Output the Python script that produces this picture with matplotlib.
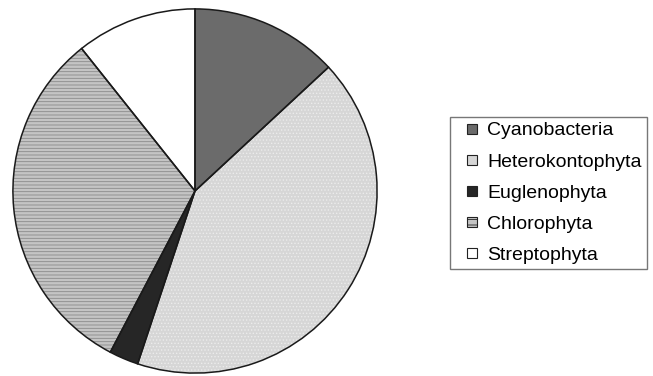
import matplotlib
matplotlib.use("Agg")
from matplotlib import pyplot as plt
from matplotlib.patches import Patch, Rectangle
from matplotlib.legend_handler import HandlerPatch

plt.rcParams['font.family'] = ['Liberation Sans', 'DejaVu Sans']
plt.rcParams['hatch.linewidth'] = 0.6

labels = ['Cyanobacteria', 'Heterokontophyta', 'Euglenophyta', 'Chlorophyta', 'Streptophyta']
shares = [13.1, 42.0, 2.6, 31.6, 10.7]
fills = ['#6b6b6b', '#d6d6d6', '#262626', '#c4c4c4', '#ffffff']
hatches = [None, '.....', None, '-----', None]
hatch_cols = ['#6b6b6b', '#ececec', '#262626', '#8a8a8a', '#ffffff']

W, H = 653, 376
fig = plt.figure(figsize=(W / 100, H / 100), dpi=100)

# pie centre and radius in pixels
cx, cy, r = 195, 191, 183
ax = fig.add_axes([(cx - r) / W, (H - cy - r) / H, 2 * r / W, 2 * r / H])
ax.axis('off')

# fill + hatch layer
wedges, _ = ax.pie(shares, startangle=90, counterclock=False, radius=1,
                   colors=fills, wedgeprops=dict(linewidth=0))
for w, h, hc in zip(wedges, hatches, hatch_cols):
    if h:
        w.set_hatch(h)
        w.set_edgecolor(hc)

# outline layer
ax.pie(shares, startangle=90, counterclock=False, radius=1,
       wedgeprops=dict(fill=False, edgecolor='#1a1a1a', linewidth=1.1))
ax.set_xlim(-1.005, 1.005)
ax.set_ylim(-1.005, 1.005)


# small square marker, right-aligned in the handle box
def small_square(legend, orig_handle, xdescent, ydescent, width, height, fontsize):
    s = 7.2
    return Rectangle((-xdescent + width - s, -ydescent + (height - s) / 2), s, s)


handles = []
for f, h in zip(fills, hatches):
    handles.append(Patch(facecolor=f, edgecolor='#222222', linewidth=0.8,
                         hatch=('---' if h == '-----' else None)))


def make_legend(spacing):
    lg = fig.legend(handles, labels, loc='center', bbox_to_anchor=(548.5 / W, 1 - 193 / H),
                    fontsize=14, frameon=True, fancybox=False, edgecolor='#555555',
                    handlelength=1.14, handleheight=0.7, handletextpad=0.5,
                    labelspacing=spacing, borderpad=0.25, borderaxespad=0,
                    handler_map={Patch: HandlerPatch(patch_func=small_square)})
    lg.get_frame().set_linewidth(1.0)
    return lg


# fit row spacing so the legend box is ~152 px tall
spacing = 0.4
leg = make_legend(spacing)
fig.canvas.draw()
bb = leg.get_window_extent(fig.canvas.get_renderer())
spacing += (152 - bb.height) / 4 / (14 * fig.dpi / 72)
leg.remove()
leg = make_legend(spacing)

fig.savefig('out.png', dpi=100)
